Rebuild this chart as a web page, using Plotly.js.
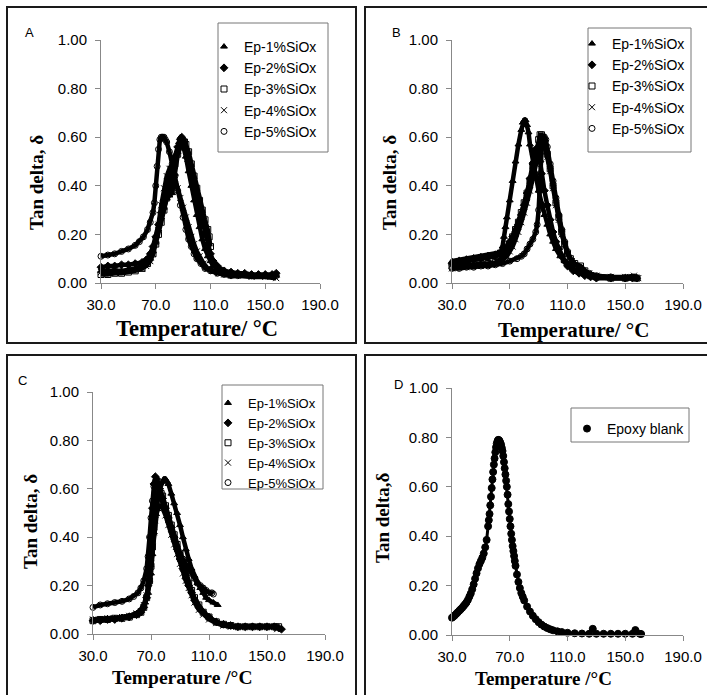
<!DOCTYPE html>
<html>
<head>
<meta charset="utf-8">
<script src="https://cdn.plot.ly/plotly-3.0.1.min.js"></script>
<style>html,body{margin:0;padding:0;background:#fff;}#chart{width:707px;height:695px;}</style>
</head>
<body>
<div id="chart"></div>
<script>
const seriesNames = ["Ep-1%SiOx", "Ep-2%SiOx", "Ep-3%SiOx", "Ep-4%SiOx", "Ep-5%SiOx"];
const blankName = "Epoxy blank";
const xTickVals = [30, 70, 110, 150, 190];
const yTickVals = [0, 0.2, 0.4, 0.6, 0.8, 1.0];

// ---------- Panel A ----------
const tempA1 = [30,35,40,45,50,55,60,63,66,68,70,72,74,76,78,80,82,84,86,87,88,89,90,92,94,96,98,100,102,104,106,108,110,112,115,120,125,130,135,140,145,150,155,158];
const tanA1  = [0.05,0.05,0.05,0.05,0.055,0.06,0.07,0.08,0.10,0.13,0.17,0.22,0.27,0.31,0.35,0.36,0.37,0.45,0.54,0.58,0.60,0.59,0.57,0.52,0.46,0.40,0.34,0.28,0.23,0.18,0.14,0.11,0.09,0.07,0.06,0.05,0.04,0.04,0.035,0.03,0.03,0.03,0.03,0.03];
const tempA2 = [30,35,40,45,50,55,60,63,66,68,70,72,74,76,78,80,82,84,86,88,89,90,92,94,96,98,100,102,104,106,108,110,112,115,120,125,130,135,140,145,150,155,158];
const tanA2  = [0.065,0.07,0.07,0.075,0.075,0.08,0.085,0.095,0.12,0.15,0.19,0.24,0.29,0.34,0.39,0.44,0.48,0.52,0.56,0.59,0.60,0.59,0.55,0.50,0.45,0.40,0.35,0.30,0.25,0.20,0.16,0.12,0.09,0.07,0.05,0.045,0.04,0.04,0.035,0.035,0.035,0.035,0.04];
const tempA3 = [30,35,40,45,50,55,60,64,68,70,72,74,76,78,80,82,84,86,88,90,91,92,94,96,98,100,102,104,106,108,109,110];
const tanA3  = [0.035,0.035,0.04,0.04,0.045,0.05,0.06,0.08,0.12,0.16,0.20,0.25,0.30,0.35,0.40,0.45,0.49,0.53,0.56,0.58,0.58,0.57,0.54,0.49,0.44,0.39,0.34,0.30,0.26,0.22,0.19,0.15];
const tempA4 = [30,35,40,45,50,55,60,63,66,68,70,72,74,76,78,80,81,82,84,86,88,90,92,94,96,98,100,102,105,108,112,116,120,125,130,140,150,158];
const tanA4  = [0.045,0.045,0.05,0.045,0.05,0.055,0.06,0.07,0.09,0.12,0.17,0.24,0.32,0.39,0.44,0.47,0.47,0.46,0.43,0.39,0.35,0.31,0.27,0.23,0.19,0.16,0.13,0.11,0.08,0.06,0.05,0.04,0.035,0.03,0.03,0.025,0.025,0.02];
const tempA5 = [30,35,40,45,50,55,58,61,64,66,68,69,70,71,72,73,74,75,76,77,78,80,82,84,86,88,90,92,94,96,98,100,103,106,110,115,120,125,130,140,150,158];
const tanA5  = [0.11,0.115,0.12,0.13,0.14,0.155,0.17,0.19,0.22,0.25,0.29,0.33,0.40,0.48,0.55,0.59,0.60,0.60,0.60,0.59,0.58,0.54,0.49,0.44,0.38,0.32,0.27,0.22,0.18,0.15,0.12,0.10,0.08,0.06,0.05,0.04,0.035,0.03,0.03,0.03,0.03,0.03];

// ---------- Panel B ----------
const tempB1 = [30,35,40,45,50,55,60,62,64,65,66,67,68,70,72,74,76,78,79,80,81,82,83,84,86,88,90,92,94,96,98,100,102,105,108,112,116,120,125,130,140,150,158];
const tanB1  = [0.09,0.095,0.10,0.105,0.11,0.115,0.12,0.125,0.13,0.15,0.19,0.23,0.27,0.34,0.42,0.50,0.57,0.63,0.66,0.67,0.67,0.65,0.62,0.57,0.50,0.44,0.38,0.33,0.28,0.24,0.20,0.17,0.14,0.11,0.09,0.07,0.05,0.04,0.03,0.025,0.02,0.02,0.02];
const tempB2 = [30,35,40,45,50,55,60,63,66,68,70,72,74,76,78,80,82,84,86,87,88,89,90,91,92,94,96,98,100,102,104,106,108,110,114,118,122,126,130,140,150,155,158];
const tanB2  = [0.08,0.085,0.09,0.095,0.10,0.105,0.11,0.12,0.13,0.15,0.17,0.19,0.21,0.24,0.28,0.32,0.37,0.43,0.49,0.53,0.55,0.55,0.54,0.50,0.45,0.38,0.32,0.26,0.21,0.17,0.14,0.11,0.09,0.07,0.05,0.04,0.03,0.025,0.02,0.02,0.02,0.02,0.02];
const tempB3 = [30,35,40,45,50,55,60,64,68,70,72,74,76,78,80,82,84,86,88,90,91,92,93,94,96,98,100,102,104,106,108,110,112,115,119,122,126,130,140,150,158];
const tanB3  = [0.07,0.07,0.075,0.075,0.08,0.08,0.085,0.10,0.13,0.16,0.19,0.22,0.25,0.29,0.33,0.37,0.42,0.48,0.54,0.59,0.61,0.61,0.60,0.58,0.53,0.47,0.40,0.33,0.27,0.21,0.16,0.12,0.10,0.08,0.07,0.05,0.03,0.025,0.02,0.02,0.02];
const tempB4 = [30,35,40,45,50,55,60,64,68,70,72,74,76,78,80,82,84,86,88,90,92,93,94,96,98,100,102,104,106,108,110,113,116,120,125,130,140,150,156,159];
const tanB4  = [0.06,0.065,0.065,0.07,0.07,0.075,0.08,0.09,0.11,0.13,0.15,0.18,0.21,0.25,0.29,0.33,0.38,0.43,0.49,0.54,0.58,0.58,0.57,0.52,0.46,0.39,0.32,0.26,0.20,0.16,0.12,0.09,0.07,0.05,0.04,0.03,0.025,0.025,0.03,0.02];
const tempB5 = [30,35,40,45,50,55,60,65,70,75,78,80,82,84,86,88,89,90,90.5,91,92,93,94,95,96,98,100,102,104,106,108,110,113,116,120,125,130,140,150,158];
const tanB5  = [0.06,0.06,0.065,0.065,0.07,0.07,0.075,0.08,0.09,0.10,0.11,0.12,0.14,0.16,0.18,0.21,0.24,0.30,0.38,0.45,0.54,0.59,0.60,0.59,0.56,0.49,0.42,0.35,0.28,0.22,0.17,0.13,0.09,0.07,0.05,0.04,0.03,0.025,0.02,0.02];

// ---------- Panel C ----------
const tempC1 = [30,35,40,45,50,55,60,63,66,68,70,71,72,73,74,76,78,79,80,81,82,84,86,88,90,92,94,96,98,100,102,104,106,108,110,113,116];
const tanC1  = [0.06,0.06,0.065,0.065,0.07,0.075,0.085,0.10,0.13,0.17,0.25,0.33,0.42,0.50,0.56,0.60,0.63,0.64,0.64,0.63,0.62,0.58,0.54,0.50,0.45,0.40,0.35,0.31,0.27,0.24,0.21,0.19,0.17,0.15,0.14,0.13,0.12];
const tempC2 = [30,35,40,45,50,55,60,63,65,67,68,69,70,71,72,73,74,75,76,78,80,82,84,86,88,90,92,94,96,98,100,103,106,110,115,120,125,130,135,140,145,150,155,158,160];
const tanC2  = [0.055,0.055,0.06,0.06,0.065,0.07,0.08,0.09,0.11,0.15,0.20,0.28,0.40,0.52,0.62,0.65,0.64,0.62,0.60,0.56,0.52,0.48,0.44,0.40,0.35,0.31,0.27,0.23,0.20,0.17,0.14,0.11,0.09,0.07,0.05,0.04,0.035,0.03,0.03,0.03,0.03,0.03,0.03,0.025,0.02];
const tempC3 = [30,35,40,45,50,55,60,63,65,67,69,70,71,72,73,74,75,76,77,78,80,82,84,86,88,90,92,94,96,98,100,103,106,110,115,120,125,130,135,140,145,150,155,158];
const tanC3  = [0.055,0.06,0.06,0.065,0.065,0.07,0.08,0.09,0.11,0.15,0.22,0.28,0.36,0.44,0.50,0.54,0.57,0.58,0.58,0.57,0.53,0.49,0.45,0.41,0.37,0.33,0.29,0.25,0.21,0.18,0.15,0.12,0.09,0.07,0.05,0.04,0.035,0.03,0.03,0.03,0.03,0.03,0.03,0.03];
const tempC4 = [30,35,40,45,50,55,60,63,65,67,69,70,71,72,73,74,75,76,77,78,80,82,84,86,88,90,92,94,96,98,100,103,106,110,115,120,125,130,135,140,145,150,155,157];
const tanC4  = [0.06,0.06,0.065,0.065,0.07,0.075,0.085,0.095,0.12,0.16,0.23,0.29,0.36,0.42,0.47,0.50,0.52,0.53,0.53,0.52,0.49,0.45,0.41,0.37,0.33,0.29,0.25,0.22,0.19,0.16,0.13,0.10,0.08,0.06,0.045,0.035,0.03,0.03,0.03,0.03,0.03,0.03,0.03,0.02];
const tempC5 = [30,35,40,45,50,55,58,61,63,65,67,68,69,70,71,72,73,74,75,76,78,80,82,84,86,88,90,92,94,96,98,100,102,104,106,108,110,112,113];
const tanC5  = [0.11,0.12,0.125,0.13,0.135,0.145,0.155,0.17,0.19,0.22,0.27,0.32,0.40,0.48,0.55,0.61,0.63,0.62,0.60,0.58,0.55,0.51,0.47,0.43,0.39,0.36,0.33,0.31,0.29,0.27,0.25,0.23,0.21,0.20,0.19,0.18,0.17,0.17,0.165];

// ---------- Panel D ----------
const tempD = [30,31,32,33,34,35,36,37,38,39,40,41,42,43,44,45,46,47,48,49,50,51,52,53,54,55,55.5,56,56.5,57,57.5,58,58.5,59,59.5,60,60.5,61,61.5,62,62.5,63,63.5,64,64.5,65,65.5,66,66.5,67,67.5,68,68.5,69,69.5,70,70.5,71,71.5,72,72.5,73,73.5,74,75,76,77,78,79,80,82,84,86,88,90,92,94,96,98,100,103,106,110,115,120,125,127.5,130,135,140,145,150,155,157,160,161];
const tanD  = [0.070,0.075,0.080,0.086,0.092,0.098,0.104,0.110,0.117,0.124,0.132,0.142,0.155,0.168,0.185,0.205,0.228,0.250,0.270,0.287,0.300,0.313,0.330,0.355,0.385,0.440,0.465,0.490,0.525,0.560,0.595,0.630,0.660,0.690,0.715,0.740,0.760,0.775,0.785,0.790,0.789,0.785,0.778,0.770,0.758,0.745,0.725,0.700,0.675,0.650,0.625,0.600,0.568,0.530,0.500,0.470,0.440,0.410,0.385,0.360,0.340,0.320,0.300,0.280,0.245,0.215,0.190,0.170,0.155,0.140,0.115,0.095,0.078,0.064,0.052,0.042,0.034,0.028,0.023,0.019,0.015,0.012,0.009,0.007,0.006,0.005,0.025,0.005,0.005,0.005,0.005,0.005,0.005,0.020,0.005,0.004];

const symbols = ["triangle-up", "diamond", "square-open", "x-thin-open", "circle-open"];

const traces = [];
function addSeries(T, V, name, sym, ax, leg, msize, lw) {
  traces.push({x: T, y: V, mode: "lines", xaxis: "x" + ax, yaxis: "y" + ax,
    line: {color: "#000", width: lw}, showlegend: false, hoverinfo: "skip", cliponaxis: false});
  traces.push({x: T, y: V, mode: "markers", name: name, xaxis: "x" + ax, yaxis: "y" + ax,
    legend: leg, cliponaxis: false,
    marker: {symbol: sym, size: msize, color: "#000", line: {color: "#000", width: 1}}});
}
const panels = [
  {ax: "", leg: "legend", data: [[tempA1,tanA1],[tempA2,tanA2],[tempA3,tanA3],[tempA4,tanA4],[tempA5,tanA5]]},
  {ax: "2", leg: "legend2", data: [[tempB1,tanB1],[tempB2,tanB2],[tempB3,tanB3],[tempB4,tanB4],[tempB5,tanB5]]},
  {ax: "3", leg: "legend3", data: [[tempC1,tanC1],[tempC2,tanC2],[tempC3,tanC3],[tempC4,tanC4],[tempC5,tanC5]]}
];
panels.forEach(p => p.data.forEach((d, i) => addSeries(d[0], d[1], seriesNames[i], symbols[i], p.ax, p.leg, 6, 4.5)));
addSeries(tempD, tanD, blankName, "circle", "4", "legend4", 7, 3);

const W = 707, H = 695;
const px = v => v / W, py = v => 1 - v / H;

function xax(d0, d1, anchor) {
  return {domain: [px(d0), px(d1)], anchor: anchor, range: [30, 190], tickmode: "array", tickvals: xTickVals,
    tickformat: ".1f", showline: true, linecolor: "#888", linewidth: 1, ticks: "outside", ticklen: 5,
    tickcolor: "#888", showgrid: false, zeroline: false, ticklabelstandoff: 3,
    tickfont: {family: "Liberation Sans, Arial", size: 15, color: "#000"}, fixedrange: true};
}
function yax(top, bottom, anchor) {
  return {domain: [py(bottom), py(top)], anchor: anchor, range: [0, 1], tickmode: "array", tickvals: yTickVals,
    tickformat: ".2f", showline: true, linecolor: "#888", linewidth: 1, ticks: "outside", ticklen: 5,
    tickcolor: "#888", showgrid: false, zeroline: false, ticklabelstandoff: 5,
    tickfont: {family: "Liberation Sans, Arial", size: 15, color: "#000"}, fixedrange: true};
}
function legendAt(left, top, fs) {
  return {x: px(left), y: py(top), xanchor: "left", yanchor: "top", bgcolor: "rgba(0,0,0,0)",
    borderwidth: 0, font: {family: "Liberation Sans, Arial", size: fs, color: "#000"},
    itemclick: false, itemdoubleclick: false};
}
function ann(text, x, y, size, bold, angle, serif) {
  return {text: bold ? "<b>" + text + "</b>" : text, x: px(x), y: py(y), xref: "paper", yref: "paper",
    xanchor: "center", yanchor: "middle", showarrow: false, textangle: angle || 0,
    font: {family: serif ? "Liberation Serif, Times New Roman" : "Liberation Sans, Arial", size: size, color: "#000"}};
}
function box(x0, y0, x1, y1, color, width, fill) {
  return {type: "rect", xref: "paper", yref: "paper", x0: px(x0), x1: px(x1), y0: py(y1), y1: py(y0),
    layer: "above", line: {color: color, width: width}, fillcolor: fill};
}

const layout = {
  width: W, height: H, margin: {l: 0, r: 0, t: 0, b: 0, autoexpand: false},
  paper_bgcolor: "#fff", plot_bgcolor: "rgba(0,0,0,0)",
  xaxis: xax(101, 320, "y"), yaxis: yax(40, 283, "x"),
  xaxis2: xax(452, 683, "y2"), yaxis2: yax(40, 283, "x2"),
  xaxis3: xax(93, 325, "y3"), yaxis3: yax(392, 634, "x3"),
  xaxis4: xax(452, 683, "y4"), yaxis4: yax(388, 635, "x4"),
  legend: legendAt(204, 31, 14), legend2: legendAt(572, 28, 14), legend3: legendAt(208, 388, 13), legend4: legendAt(567, 413, 14),
  shapes: [
    box(7, 7, 356, 343, "#1a1a1a", 2, "rgba(0,0,0,0)"), box(365, 7, 712, 343, "#1a1a1a", 2, "rgba(0,0,0,0)"),
    box(7, 355, 356, 702, "#1a1a1a", 2, "rgba(0,0,0,0)"), box(365, 355, 712, 702, "#1a1a1a", 2, "rgba(0,0,0,0)"),
    box(218, 23, 328, 152, "#777", 1, "#fff"), box(588, 28, 691, 152, "#777", 1, "#fff"),
    box(222, 385, 323, 489, "#777", 1, "#fff"), box(571, 408, 689, 442, "#777", 1, "#fff")
  ],
  annotations: [
    ann("A", 29, 33, 13), ann("B", 396, 33, 13), ann("C", 22, 381, 13), ann("D", 398, 384, 13),
    ann("Temperature/ °C", 197, 328, 22.5, true, 0, true),
    ann("Temperature/ °C", 573, 330, 21, true, 0, true),
    ann("Temperature /°C", 182, 677, 19.5, true, 0, true),
    ann("Temperature /°C", 543, 678, 19, true, 0, true),
    ann("Tan delta, δ", 36, 183, 19, true, -90, true),
    ann("Tan delta, δ", 389, 183, 19, true, -90, true),
    ann("Tan delta, δ", 30, 522, 19, true, -90, true),
    ann("Tan delta,δ", 382, 518, 19, true, -90, true)
  ],
  showlegend: true
};
Plotly.newPlot("chart", traces, layout, {displayModeBar: false, staticPlot: true});
</script>
</body>
</html>
